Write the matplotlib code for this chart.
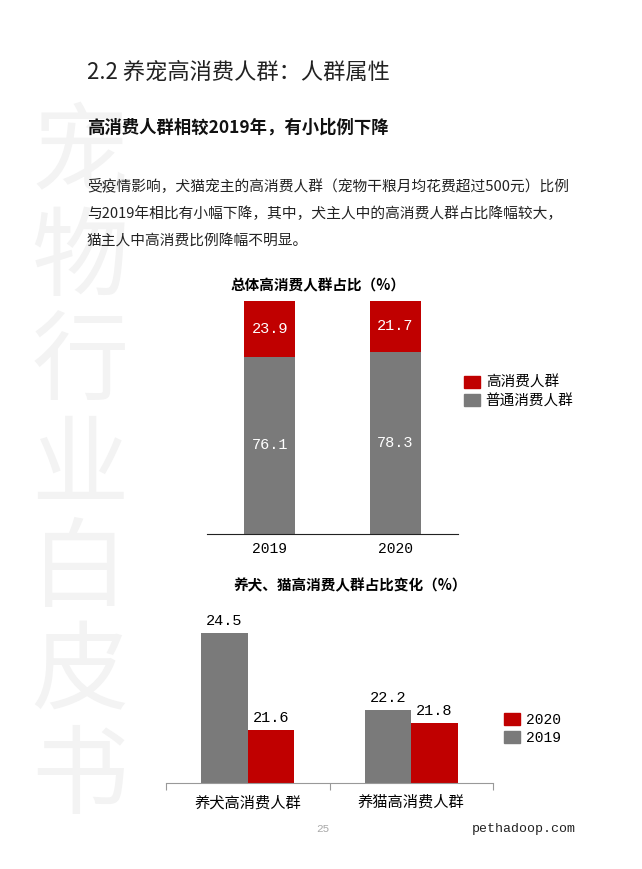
import matplotlib
matplotlib.use('Agg')
import matplotlib.pyplot as plt
from matplotlib.patches import Patch

plt.rcParams['font.family'] = ['Noto Sans CJK SC', 'DejaVu Sans']
MONO = ['Liberation Mono', 'Noto Sans CJK SC']

RED = '#c00000'
GRAY = '#7a7a7a'

# chart 1: 总体高消费人群占比
years = ['2019', '2020']
high = [23.9, 21.7]
normal = [76.1, 78.3]

# chart 2: 养犬、猫高消费人群占比变化
groups = ['养犬高消费人群', '养猫高消费人群']
v2019 = [24.5, 22.2]
v2020 = [21.6, 21.8]

W, H = 642, 869
fig = plt.figure(figsize=(W / 100, H / 100), dpi=100)


def fx(x):
    return x / W


def fy(y):
    return 1 - y / H


# watermark
for i, ch in enumerate('宠物行业白皮书'):
    fig.text(fx(80), fy(157 + i * 103.6), ch, fontsize=70, color='#f3f3f3',
             ha='center', va='center', weight='light', zorder=0)

fig.text(fx(87), fy(72), '2.2 养宠高消费人群：人群属性', fontsize=16,
         color='#222222', ha='left', va='center')
fig.text(fx(87), fy(128), '高消费人群相较2019年，有小比例下降', fontsize=12.5,
         weight='bold', color='#111111', ha='left', va='center')
body = ['受疫情影响，犬猫宠主的高消费人群（宠物干粮月均花费超过500元）比例',
        '与2019年相比有小幅下降，其中，犬主人中的高消费人群占比降幅较大，',
        '猫主人中高消费比例降幅不明显。']
for i, line in enumerate(body):
    fig.text(fx(87), fy(186 + i * 28), line, fontsize=10.6, color='#222222',
             ha='left', va='center')

# ---- chart 1
ax1 = fig.add_axes([fx(207), fy(534), fx(458) - fx(207), (534 - 301) / H])
x = range(len(years))
ax1.bar(x, normal, width=0.41, color=GRAY, label='普通消费人群')
ax1.bar(x, high, width=0.41, bottom=normal, color=RED, label='高消费人群')
for i in x:
    ax1.text(i, normal[i] / 2, f'{normal[i]:.1f}', color='white', ha='center',
             va='center', fontsize=11, family=MONO)
    ax1.text(i, normal[i] + high[i] / 2, f'{high[i]:.1f}', color='white',
             ha='center', va='center', fontsize=11, family=MONO)
ax1.set_xlim(-0.5, 1.5)
ax1.set_ylim(0, 100)
ax1.set_xticks(list(x))
ax1.set_xticklabels(years, family=MONO, fontsize=10.5)
ax1.tick_params(axis='x', length=0, pad=6)
ax1.set_yticks([])
for s in ['top', 'right', 'left']:
    ax1.spines[s].set_visible(False)
ax1.spines['bottom'].set_color('#222222')
fig.text(fx(318), fy(285), '总体高消费人群占比（%）', fontsize=10.5,
         weight='bold', ha='center', va='center')
fig.legend(handles=[Patch(color=RED, label='高消费人群'),
                    Patch(color=GRAY, label='普通消费人群')],
           loc='upper left', bbox_to_anchor=(fx(458), fy(370)), frameon=False,
           fontsize=10.5, handlelength=1.1, handleheight=0.9,
           handletextpad=0.4, labelspacing=0.3, borderaxespad=0)

# ---- chart 2
ax2 = fig.add_axes([fx(166), fy(783), fx(493) - fx(166), 167 / H])
pos = range(len(groups))
w = 0.285
ax2.bar([p - w / 2 for p in pos], v2019, width=w, color=GRAY, label='2019')
ax2.bar([p + w / 2 for p in pos], v2020, width=w, color=RED, label='2020')
for p in pos:
    ax2.text(p - w / 2, v2019[p] + 0.15, f'{v2019[p]:.1f}', ha='center',
             va='bottom', fontsize=11, family=MONO)
    ax2.text(p + w / 2, v2020[p] + 0.15, f'{v2020[p]:.1f}', ha='center',
             va='bottom', fontsize=11, family=MONO)
ax2.set_xlim(-0.5, 1.5)
ax2.set_ylim(20, 25)
ax2.set_xticks([-0.5, 0.5, 1.5])
ax2.set_xticklabels([])
ax2.set_xticks(list(pos), minor=True)
ax2.set_xticklabels(groups, minor=True, fontsize=11)
ax2.tick_params(axis='x', which='major', length=5, color='#999999')
ax2.tick_params(axis='x', which='minor', length=0, pad=8)
ax2.set_yticks([])
for s in ['top', 'right', 'left']:
    ax2.spines[s].set_visible(False)
ax2.spines['bottom'].set_color('#999999')
fig.text(fx(350), fy(585), '养犬、猫高消费人群占比变化（%）', fontsize=10.5,
         weight='bold', ha='center', va='center')
fig.legend(handles=[Patch(color=RED, label='2020'),
                    Patch(color=GRAY, label='2019')],
           loc='upper left', bbox_to_anchor=(fx(498), fy(707)), frameon=False,
           handlelength=1.1, handleheight=0.9,
           handletextpad=0.4, labelspacing=0.3, borderaxespad=0,
           prop={'family': MONO, 'size': 10.5})

fig.text(fx(323), fy(829), '25', fontsize=8, color='#aaaaaa', ha='center',
         va='center', family=MONO)
fig.text(fx(576), fy(829), 'pethadoop.com', fontsize=9.5, color='#222222',
         ha='right', va='center', family=MONO)

fig.savefig('out.png', dpi=100)
